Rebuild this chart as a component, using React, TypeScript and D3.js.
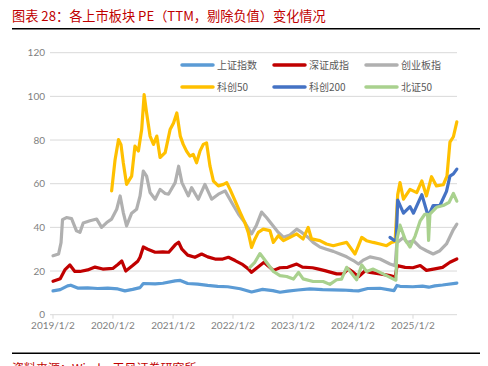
import * as d3 from "d3";
import React from "react";

// 上证指数
const sse: [string, number][] = [
  ["2019-01-02", 10.9], ["2019-02-15", 11.5], ["2019-04-01", 13.2], ["2019-04-20", 13.5],
  ["2019-06-01", 12.2], ["2019-08-01", 12.3], ["2019-10-01", 12.0], ["2019-12-01", 12.2],
  ["2020-02-01", 11.8], ["2020-03-15", 10.9], ["2020-05-01", 11.6], ["2020-06-15", 12.4],
  ["2020-07-05", 14.3], ["2020-09-15", 14.1], ["2020-11-01", 14.4], ["2021-01-15", 15.5],
  ["2021-02-15", 15.7], ["2021-04-01", 14.3], ["2021-06-01", 14.0], ["2021-08-01", 13.4],
  ["2021-10-01", 13.0], ["2021-12-01", 12.8], ["2022-02-15", 11.9], ["2022-04-25", 10.4],
  ["2022-07-01", 11.6], ["2022-09-01", 11.0], ["2022-10-15", 10.3], ["2022-12-01", 10.8],
  ["2023-02-01", 11.3], ["2023-04-15", 11.8], ["2023-07-01", 11.5], ["2023-09-01", 11.4],
  ["2023-11-01", 11.3], ["2024-01-01", 11.0], ["2024-02-05", 10.9], ["2024-04-01", 12.0],
  ["2024-06-15", 12.1], ["2024-09-08", 11.0], ["2024-09-26", 13.4], ["2024-10-15", 13.0],
  ["2025-01-01", 12.8], ["2025-03-01", 13.1], ["2025-04-08", 12.6], ["2025-05-15", 13.2],
  ["2025-07-01", 13.6], ["2025-09-26", 14.5],
];

// 深证成指
const szse: [string, number][] = [
  ["2019-01-02", 15.3], ["2019-02-15", 16.5], ["2019-03-15", 20.5], ["2019-04-15", 22.8],
  ["2019-05-15", 19.8], ["2019-06-15", 19.8], ["2019-08-01", 20.5], ["2019-09-15", 21.8],
  ["2019-11-01", 20.9], ["2020-01-01", 21.2], ["2020-02-01", 23.0], ["2020-02-25", 24.6],
  ["2020-03-20", 20.0], ["2020-05-01", 22.5], ["2020-06-01", 24.5], ["2020-06-15", 26.3],
  ["2020-07-05", 31.0], ["2020-08-01", 30.0], ["2020-09-15", 28.6], ["2020-11-01", 28.8],
  ["2020-12-07", 28.6], ["2021-01-15", 32.0], ["2021-02-05", 33.2], ["2021-02-25", 30.0],
  ["2021-04-01", 27.3], ["2021-05-15", 26.3], ["2021-06-25", 27.8], ["2021-08-01", 26.5],
  ["2021-09-15", 25.5], ["2021-11-01", 25.5], ["2021-12-05", 26.3], ["2022-01-15", 24.8],
  ["2022-02-25", 23.2], ["2022-04-05", 21.0], ["2022-04-25", 19.4], ["2022-05-25", 21.3],
  ["2022-07-10", 24.0], ["2022-08-01", 22.5], ["2022-09-05", 20.3], ["2022-10-15", 21.5],
  ["2022-12-01", 21.7], ["2023-01-25", 23.2], ["2023-03-01", 21.8], ["2023-05-01", 21.5],
  ["2023-06-01", 21.0], ["2023-07-15", 20.2], ["2023-09-25", 18.7], ["2023-11-05", 18.7],
  ["2023-12-05", 21.0], ["2024-01-05", 19.4], ["2024-02-05", 17.4], ["2024-03-15", 20.0],
  ["2024-04-15", 19.4], ["2024-06-15", 18.7], ["2024-08-15", 17.9], ["2024-09-15", 17.2],
  ["2024-09-28", 22.5], ["2024-11-15", 21.7], ["2025-01-01", 21.5], ["2025-02-15", 22.5],
  ["2025-03-25", 20.3], ["2025-05-15", 21.0], ["2025-07-01", 21.7], ["2025-08-15", 24.0],
  ["2025-09-26", 25.5],
];

// 创业板指
const chinext: [string, number][] = [
  ["2019-01-02", 27.0], ["2019-02-05", 27.8], ["2019-02-20", 33.0], ["2019-03-01", 43.5],
  ["2019-03-25", 44.5], ["2019-04-25", 44.0], ["2019-05-25", 38.4], ["2019-06-15", 37.7],
  ["2019-07-05", 42.0], ["2019-08-15", 43.0], ["2019-09-25", 43.8], ["2019-10-25", 40.0],
  ["2019-11-25", 42.2], ["2019-12-25", 43.8], ["2020-01-25", 48.3], ["2020-02-15", 54.4],
  ["2020-03-05", 46.8], ["2020-03-25", 40.7], ["2020-04-25", 46.5], ["2020-05-25", 48.3],
  ["2020-06-15", 54.4], ["2020-07-05", 65.8], ["2020-07-25", 63.5], ["2020-08-15", 56.0],
  ["2020-09-15", 52.9], ["2020-10-15", 57.4], ["2020-11-15", 55.5], ["2020-12-05", 55.2],
  ["2021-01-15", 60.5], ["2021-02-05", 68.0], ["2021-02-25", 60.5], ["2021-04-05", 54.4],
  ["2021-04-25", 58.2], ["2021-06-05", 52.9], ["2021-07-15", 59.7], ["2021-08-25", 52.9],
  ["2021-10-05", 55.2], ["2021-11-15", 56.7], ["2021-12-25", 51.4], ["2022-02-05", 46.0],
  ["2022-03-15", 42.2], ["2022-04-25", 37.0], ["2022-05-25", 41.0], ["2022-06-25", 47.0],
  ["2022-07-25", 44.5], ["2022-09-05", 40.5], ["2022-10-05", 37.7], ["2022-11-05", 35.5],
  ["2022-12-15", 36.5], ["2023-01-25", 39.2], ["2023-02-25", 37.7], ["2023-04-05", 35.4],
  ["2023-05-05", 33.1], ["2023-06-15", 31.0], ["2023-07-25", 30.0], ["2023-09-05", 29.0],
  ["2023-10-15", 27.8], ["2023-11-25", 26.5], ["2024-01-05", 24.8], ["2024-02-05", 23.2],
  ["2024-03-05", 25.0], ["2024-04-15", 26.5], ["2024-06-15", 25.5], ["2024-08-15", 23.2],
  ["2024-09-15", 22.4], ["2024-09-26", 33.0], ["2024-11-05", 35.4], ["2024-11-25", 33.1],
  ["2025-01-05", 33.9], ["2025-02-15", 30.8], ["2025-03-25", 29.3], ["2025-05-05", 27.8],
  ["2025-06-15", 29.3], ["2025-07-25", 32.4], ["2025-09-05", 39.0], ["2025-09-26", 41.5],
];

// 科创50
const star50: [string, number][] = [
  ["2019-12-25", 56.7], ["2020-01-15", 71.0], ["2020-02-05", 80.2], ["2020-02-20", 77.9],
  ["2020-03-05", 69.6], ["2020-03-25", 59.7], ["2020-04-25", 63.5], ["2020-05-15", 77.2],
  ["2020-06-05", 75.0], ["2020-06-25", 84.8], ["2020-07-10", 100.8], ["2020-07-25", 92.4],
  ["2020-08-15", 81.8], ["2020-09-05", 78.0], ["2020-09-25", 81.8], ["2020-10-15", 72.0],
  ["2020-11-15", 74.2], ["2020-12-15", 84.8], ["2021-01-05", 87.8], ["2021-01-25", 92.4],
  ["2021-02-15", 81.8], ["2021-03-05", 78.0], ["2021-03-25", 74.9], ["2021-04-15", 72.6],
  ["2021-05-05", 73.4], ["2021-05-25", 69.6], ["2021-06-15", 74.9], ["2021-07-05", 78.0],
  ["2021-07-25", 78.7], ["2021-08-15", 68.0], ["2021-09-05", 61.2], ["2021-10-05", 59.0],
  ["2021-11-05", 59.7], ["2021-11-25", 60.5], ["2021-12-15", 57.4], ["2022-01-15", 52.1],
  ["2022-02-15", 46.8], ["2022-03-15", 42.2], ["2022-04-05", 37.7], ["2022-04-25", 30.8],
  ["2022-05-15", 34.6], ["2022-06-05", 37.7], ["2022-07-05", 39.2], ["2022-08-15", 38.5],
  ["2022-09-05", 33.1], ["2022-10-05", 36.2], ["2022-11-05", 33.9], ["2022-12-15", 35.4],
  ["2023-01-25", 37.0], ["2023-03-05", 34.7], ["2023-04-05", 40.0], ["2023-04-25", 34.7],
  ["2023-06-15", 33.9], ["2023-07-25", 32.4], ["2023-09-05", 31.6], ["2023-10-15", 32.4],
  ["2023-11-25", 33.1], ["2024-01-15", 27.8], ["2024-02-05", 31.6], ["2024-02-25", 35.4],
  ["2024-03-25", 33.9], ["2024-05-05", 33.1], ["2024-06-15", 32.4], ["2024-07-25", 31.6],
  ["2024-08-25", 33.1], ["2024-09-15", 33.5], ["2024-10-01", 55.0], ["2024-10-15", 60.5],
  ["2024-11-05", 52.9], ["2024-12-15", 57.4], ["2025-01-25", 55.9], ["2025-02-25", 61.3],
  ["2025-03-25", 54.4], ["2025-04-25", 63.2], ["2025-05-25", 59.0], ["2025-07-05", 59.5],
  ["2025-07-28", 63.5], ["2025-08-15", 79.0], ["2025-09-05", 81.5], ["2025-09-26", 88.3],
];

// 科创200
const star200: [string, number][] = [
  ["2024-08-15", 35.4], ["2024-09-10", 34.0], ["2024-09-22", 34.5], ["2024-10-01", 52.5],
  ["2024-11-05", 46.5], ["2024-12-15", 49.5], ["2025-01-05", 46.5], ["2025-02-25", 55.0],
  ["2025-04-05", 45.0], ["2025-05-05", 50.0], ["2025-06-15", 50.0], ["2025-07-25", 56.5],
  ["2025-08-15", 63.5], ["2025-09-05", 64.5], ["2025-09-26", 66.7],
];

// 北证50
const bse50: [string, number][] = [
  ["2022-04-15", 21.7], ["2022-05-15", 24.0], ["2022-06-15", 28.0], ["2022-07-25", 24.0],
  ["2022-09-05", 19.8], ["2022-10-15", 17.9], ["2022-11-25", 17.5], ["2023-01-05", 16.3],
  ["2023-02-05", 19.4], ["2023-03-05", 16.4], ["2023-05-05", 15.2], ["2023-07-05", 15.2],
  ["2023-08-15", 13.9], ["2023-09-25", 16.0], ["2023-10-25", 16.3], ["2023-11-25", 21.7],
  ["2023-12-25", 19.0], ["2024-01-25", 16.0], ["2024-02-25", 22.8], ["2024-03-25", 19.8],
  ["2024-05-05", 20.9], ["2024-06-15", 19.4], ["2024-07-25", 17.9], ["2024-09-05", 16.3],
  ["2024-09-20", 15.8], ["2024-09-28", 35.0], ["2024-10-15", 41.0], ["2024-11-15", 34.5],
  ["2024-12-15", 31.0], ["2025-01-15", 36.0], ["2025-02-15", 43.0], ["2025-03-15", 46.0],
  ["2025-04-01", 46.0], ["2025-04-07", 34.0], ["2025-04-15", 46.1], ["2025-05-25", 49.2],
  ["2025-07-05", 50.0], ["2025-08-10", 51.5], ["2025-09-05", 55.5], ["2025-09-26", 52.0],
];

const seriesNames = ["上证指数", "深证成指", "创业板指", "科创50", "科创200", "北证50"];
const seriesColors = ["#5B9BD5", "#C00000", "#B0B0B0", "#FFC000", "#4472C4", "#A9D18E"];
const seriesData = [sse, szse, chinext, star50, star200, bse50];

const yTicks = [0, 20, 40, 60, 80, 100, 120];
const xTickDates = ["2019-01-02", "2020-01-02", "2021-01-02", "2022-01-02", "2023-01-02", "2024-01-02", "2025-01-02"];
const xTickLabels = ["2019/1/2", "2020/1/2", "2021/1/2", "2022/1/2", "2023/1/2", "2024/1/2", "2025/1/2"];

const W = 488;
const H = 366;
const parse = d3.timeParse("%Y-%m-%d");

export default function App() {
  const x = d3
    .scaleTime()
    .domain([parse("2019-01-02")!, parse("2025-09-27")!])
    .range([53, 457]);
  const y = d3.scaleLinear().domain([0, 120]).range([314.7, 52.7]);

  const line = d3
    .line<[string, number]>()
    .x((d) => x(parse(d[0])!))
    .y((d) => y(d[1]));

  const legendCols = [181, 273, 365];
  const legendRows = [65, 87];

  return (
    <svg
      width={W}
      height={H}
      style={{ position: "absolute", left: 0, top: 0, display: "block", background: "#fff" }}
    >
      <text
        x={12}
        y={21}
        fill="#C00000"
        fontSize={13.2}
        fontFamily="'Noto Sans CJK SC', sans-serif"
      >
        图表 28：各上市板块 PE（TTM，剔除负值）变化情况
      </text>
      <line x1={12} x2={480} y1={28.7} y2={28.7} stroke="#000" strokeWidth={1.6} />

      {/* grid + y labels */}
      {yTicks.map((t) => (
        <g key={t}>
          <line
            x1={50}
            x2={457}
            y1={y(t)}
            y2={y(t)}
            stroke="#D9D9D9"
            strokeWidth={1}
          />
          <text
            x={45}
            y={y(t)}
            dy="0.35em"
            textAnchor="end"
            fill="#7F7F7F"
            fontSize={10}
            fontFamily="Lato, sans-serif"
          >
            {t}
          </text>
        </g>
      ))}

      {/* x ticks */}
      {xTickDates.map((d, i) => {
        const px = x(parse(d)!);
        return (
          <g key={d}>
            <line x1={px} x2={px} y1={y(0)} y2={y(0) + 4} stroke="#D9D9D9" />
            <text
              x={px}
              y={329}
              textAnchor="middle"
              fill="#7F7F7F"
              fontSize={10}
              fontFamily="Lato, sans-serif"
            >
              {xTickLabels[i]}
            </text>
          </g>
        );
      })}

      {/* series */}
      {seriesData.map((s, i) => (
        <path
          key={seriesNames[i]}
          d={line(s) ?? ""}
          fill="none"
          stroke={seriesColors[i]}
          strokeWidth={3.2}
          strokeLinejoin="round"
          strokeLinecap="round"
        />
      ))}

      {/* legend */}
      {seriesNames.map((n, i) => {
        const lx = legendCols[i % 3];
        const ly = legendRows[Math.floor(i / 3)];
        return (
          <g key={n}>
            <line
              x1={lx + 1}
              x2={lx + 32}
              y1={ly}
              y2={ly}
              stroke={seriesColors[i]}
              strokeWidth={3.5}
              strokeLinecap="round"
            />
            <text
              x={lx + 36}
              y={ly}
              dy="0.35em"
              fill="#595959"
              fontSize={10}
              fontFamily="'Noto Sans CJK SC', sans-serif"
            >
              {n}
            </text>
          </g>
        );
      })}

      <line x1={12} x2={480} y1={353.3} y2={353.3} stroke="#000" strokeWidth={1.6} />
      {/* the source line is cut off by the bottom edge in the reference too */}
      <text
        x={12}
        y={373}
        fill="#C00000"
        fontSize={12}
        fontFamily="'Noto Sans CJK SC', sans-serif"
      >
        资料来源：Wind，天风证券研究所
      </text>
    </svg>
  );
}
